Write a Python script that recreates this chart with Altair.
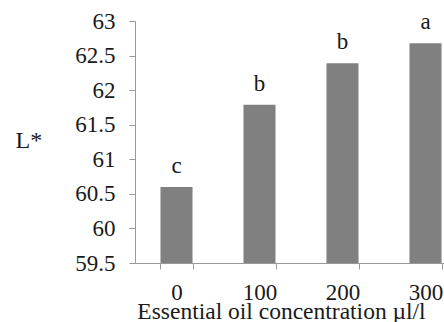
import altair as alt
import pandas as pd

concentrations = ["0", "100", "200", "300"]
lightness = [60.60, 61.79, 62.39, 62.68]
groups = ["c", "b", "b", "a"]
y_ticks = [59.5, 60, 60.5, 61, 61.5, 62, 62.5, 63]
y_base = 59.5

df = pd.DataFrame({"conc": concentrations, "L": lightness, "grp": groups})

FONT = "Liberation Serif"
FS = 23
INK = "#1a1a1a"
AXIS_GRAY = "#999999"

x_enc = alt.X(
    "conc:N",
    sort=concentrations,
    scale=alt.Scale(range=[0, 332], paddingInner=0.614, paddingOuter=0.307),
    axis=alt.Axis(
        title="Essential oil concentration µl/l",
        labelAngle=0,
        tickBand="extent",
        tickSize=6,
        labelPadding=30,
        labelBaseline="alphabetic",
        labelOverlap=False,
        titleFontSize=23.5,
        titleX=146,
        titleY=55,
        titleBaseline="alphabetic",
        zindex=1,
    ),
)

y_enc = alt.Y(
    "L:Q",
    scale=alt.Scale(domain=[59.5, 63], zero=False, nice=False),
    axis=alt.Axis(
        title="L*",
        values=y_ticks,
        format="~g",
        grid=False,
        tickSize=6,
        labelPadding=14,
        labelOverlap=False,
        titleFontSize=24,
        titleAngle=0,
        titleX=-120,
        titleY=126,
        titleAlign="left",
        titleBaseline="alphabetic",
    ),
)

bars = alt.Chart(df).mark_bar(color="#808080").encode(
    x=x_enc, y=y_enc, y2=alt.datum(y_base)
)

letters = alt.Chart(df).mark_text(
    fontSize=FS, dy=-14, baseline="alphabetic", color=INK
).encode(x=x_enc, y=y_enc, text="grp:N")

chart = (
    alt.layer(bars, letters)
    .properties(
        width=309,
        height=242,
        autosize=alt.AutoSizeParams(type="none"),
        padding={"left": 135, "top": 21, "right": 0, "bottom": 59},
    )
    .configure(background="white", font=FONT)
    .configure_view(stroke=None)
    .configure_axis(
        labelFont=FONT,
        labelFontSize=FS,
        labelColor=INK,
        titleFont=FONT,
        titleFontWeight="normal",
        titleColor=INK,
        tickColor=AXIS_GRAY,
        domainColor=AXIS_GRAY,
    )
    .configure_text(font=FONT)
)

chart.save("out.html", embed_options={"renderer": "svg", "actions": False})
